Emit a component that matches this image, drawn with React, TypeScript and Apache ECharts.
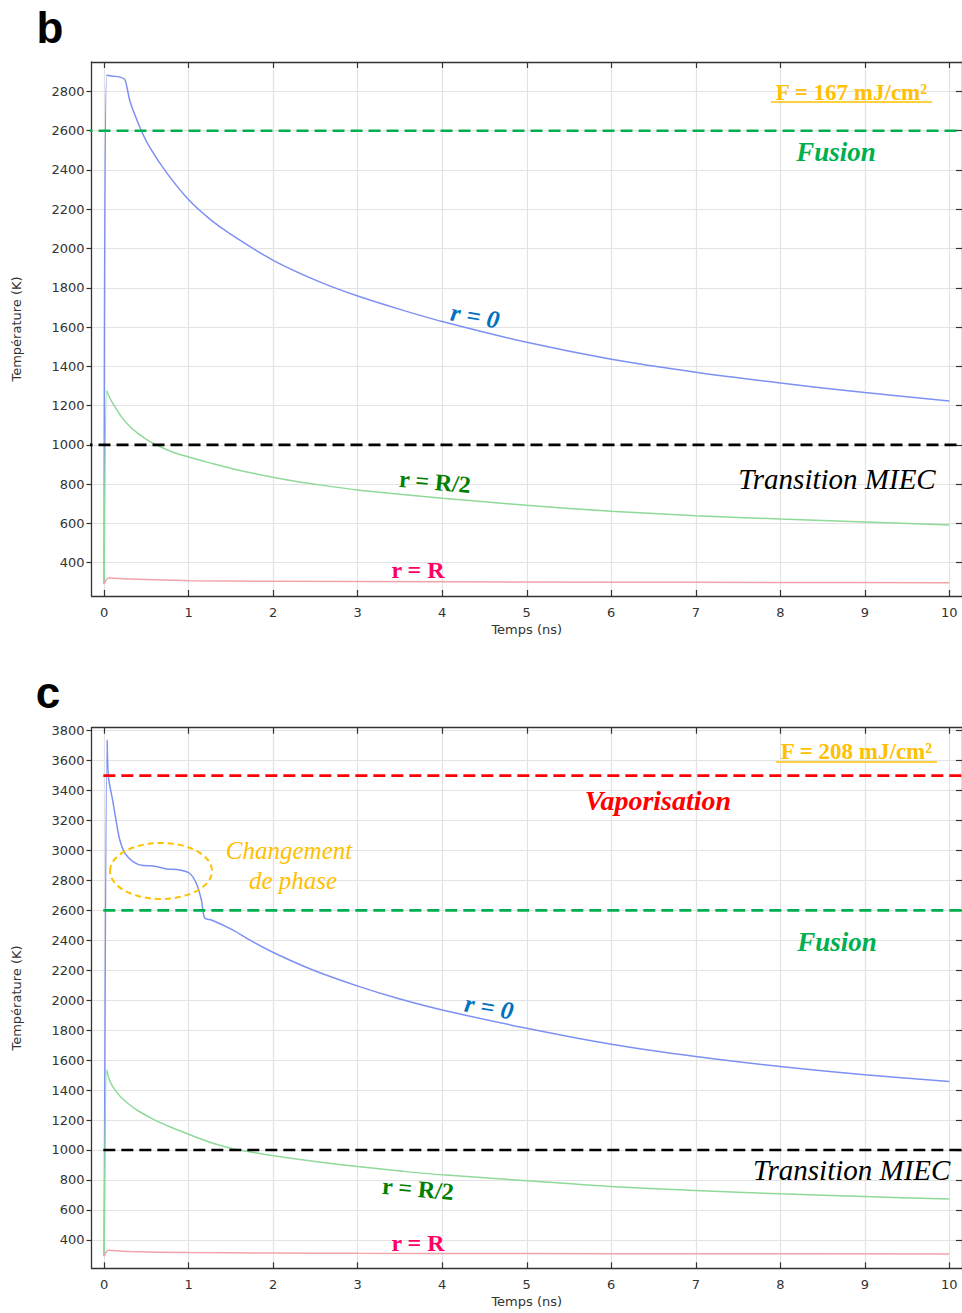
import React, { useEffect, useRef } from "react";
import * as echarts from "echarts";

// ---- tick values ----
const xTicks = [0, 1, 2, 3, 4, 5, 6, 7, 8, 9, 10];
const yTicksB = [400, 600, 800, 1000, 1200, 1400, 1600, 1800, 2000, 2200, 2400, 2600, 2800];
const yTicksC = [400, 600, 800, 1000, 1200, 1400, 1600, 1800, 2000, 2200, 2400, 2600, 2800, 3000, 3200, 3400, 3600, 3800];

// ---- panel b (F = 167 mJ/cm²) ----
const timeB0 = [0, 0.03, 0.1, 0.185, 0.245, 0.27, 0.3, 0.34, 0.44, 0.54, 0.74, 1, 1.25, 1.5, 2, 2.55, 3, 3.5, 4, 5, 6, 7, 8, 9, 10];
const tempB0 = [293, 2882, 2878, 2873, 2860, 2820, 2758, 2707, 2600, 2515, 2385, 2248, 2150, 2072, 1940, 1830, 1758, 1690, 1628, 1522, 1436, 1370, 1315, 1266, 1223];
const timeB1 = [0, 0.03, 0.06, 0.1, 0.15, 0.2, 0.3, 0.4, 0.5, 0.6, 0.8, 1, 1.25, 1.58, 2.17, 2.55, 3, 3.5, 4, 5, 6, 7, 8, 9, 10];
const tempB1 = [293, 1276, 1245, 1212, 1178, 1145, 1095, 1058, 1028, 1003, 965, 938, 908, 872, 821, 796, 770, 748, 728, 692, 662, 639, 622, 607, 592];
const timeB2 = [0, 0.05, 0.3, 1, 2, 4, 6, 8, 10];
const tempB2 = [291, 322, 316, 308, 305, 302, 300, 299, 298];
const levelsB = [2600, 1000];
const levelColorsB = ["#00B050", "#000000"];
const refSpanB = [-0.28, 10.3];

// ---- panel c (F = 208 mJ/cm²) ----
const timeC0 = [0, 0.035, 0.05, 0.1, 0.146, 0.185, 0.245, 0.34, 0.46, 0.58, 0.74, 0.89, 1.01, 1.09, 1.15, 1.19, 1.27, 1.52, 1.72, 2.02, 2.5, 3.02, 3.5, 4, 5, 6, 7, 8, 9, 10];
const tempC0 = [293, 3738, 3493, 3337, 3182, 3070, 2982, 2926, 2899, 2897, 2877, 2870, 2848, 2781, 2670, 2548, 2536, 2470, 2403, 2314, 2195, 2091, 2008, 1935, 1813, 1706, 1624, 1557, 1502, 1457];
const timeC1 = [0, 0.03, 0.06, 0.1, 0.15, 0.2, 0.3, 0.4, 0.6, 0.8, 1, 1.25, 1.5, 1.75, 2, 2.5, 3, 3.5, 4, 5, 6, 7, 8, 9, 10];
const tempC1 = [293, 1535, 1470, 1425, 1385, 1352, 1302, 1262, 1200, 1150, 1105, 1052, 1012, 985, 962, 923, 889, 860, 834, 795, 756, 729, 707, 689, 672];
const timeC2 = [0, 0.05, 0.3, 1, 2, 3, 5, 7, 10];
const tempC2 = [290, 330, 322, 315, 312, 310, 308, 307, 306];
const levelsC = [3500, 2600, 1000];
const levelColorsC = ["#FF0000", "#00B050", "#000000"];
const refSpanC = [-0.01, 10.3];

const zip = (xs: number[], ys: number[]) => xs.map((x, i) => [x, ys[i]]);

const AXIS_COLOR = "#333333";
const GRID_COLOR = "#e3e3e3";
const TICK_FONT = "DejaVu Sans";
const SERIF = "Liberation Serif";
const plain = (v: number) => String(v);

function makeAxes(gridIndex: number, yMin: number, yMax: number, yTicks: number[]) {
  const xBottom = {
    type: "value",
    gridIndex,
    position: "bottom",
    min: -0.15,
    max: 10.15,
    name: "Temps (ns)",
    nameLocation: "middle",
    nameGap: 27,
    nameTextStyle: { fontFamily: TICK_FONT, fontSize: 13, color: AXIS_COLOR },
    axisLine: { show: true, onZero: false, lineStyle: { color: AXIS_COLOR, width: 1.3 } },
    axisTick: { show: true, inside: true, length: 6, customValues: xTicks, lineStyle: { color: AXIS_COLOR, width: 1.2 } },
    axisLabel: { customValues: xTicks, formatter: plain, fontFamily: TICK_FONT, fontSize: 13, color: AXIS_COLOR, margin: 10 },
    splitLine: { show: true, lineStyle: { color: GRID_COLOR, width: 1.2 } },
  };
  const xTop = {
    type: "value",
    gridIndex,
    position: "top",
    min: -0.15,
    max: 10.15,
    axisLine: { show: true, onZero: false, lineStyle: { color: AXIS_COLOR, width: 1.3 } },
    axisTick: { show: true, inside: true, length: 6, customValues: xTicks, lineStyle: { color: AXIS_COLOR, width: 1.2 } },
    axisLabel: { show: false },
    splitLine: { show: false },
  };
  const yLeft = {
    type: "value",
    gridIndex,
    position: "left",
    min: yMin,
    max: yMax,
    name: "Température (K)",
    nameLocation: "middle",
    nameGap: 69,
    nameTextStyle: { fontFamily: TICK_FONT, fontSize: 13, color: AXIS_COLOR },
    axisLine: { show: true, onZero: false, lineStyle: { color: AXIS_COLOR, width: 1.3 } },
    axisTick: { show: true, inside: false, length: 5, customValues: yTicks, lineStyle: { color: AXIS_COLOR, width: 1.2 } },
    axisLabel: { customValues: yTicks, formatter: plain, fontFamily: TICK_FONT, fontSize: 13, color: AXIS_COLOR, margin: 7 },
    splitLine: { show: true, lineStyle: { color: GRID_COLOR, width: 1.2 } },
  };
  const yRight = {
    type: "value",
    gridIndex,
    position: "right",
    min: yMin,
    max: yMax,
    axisLine: { show: true, onZero: false, lineStyle: { color: AXIS_COLOR, width: 1.3 } },
    axisTick: { show: true, inside: true, length: 6, customValues: yTicks, lineStyle: { color: AXIS_COLOR, width: 1.2 } },
    axisLabel: { show: false },
    splitLine: { show: false },
  };
  return { x: [xBottom, xTop], y: [yLeft, yRight] };
}

function curve(xIdx: number, yIdx: number, data: number[][], color: string) {
  return {
    type: "line",
    xAxisIndex: xIdx,
    yAxisIndex: yIdx,
    data,
    showSymbol: false,
    symbol: "none",
    smooth: 0.3,
    lineStyle: { color, width: 1.5 },
    z: 3,
  };
}

function refLine(xIdx: number, yIdx: number, span: number[], level: number, color: string) {
  return {
    type: "line",
    xAxisIndex: xIdx,
    yAxisIndex: yIdx,
    data: [[span[0], level], [span[1], level]],
    showSymbol: false,
    symbol: "none",
    clip: false,
    lineStyle: { color, width: 2.6, type: [12, 6] },
    z: 4,
  };
}

function txt(x: number, y: number, text: string, font: string, fill: string, rotation = 0, align = "center") {
  return {
    type: "text",
    x,
    y,
    rotation,
    z: 10,
    style: { text, font, fill, align, verticalAlign: "middle" },
  };
}

export default function App() {
  const ref = useRef<HTMLDivElement>(null);

  useEffect(() => {
    if (!ref.current) return;
    const chart = echarts.init(ref.current, null, { renderer: "svg" });
    const axB = makeAxes(0, 230, 2950, yTicksB);
    const axC = makeAxes(1, 210, 3820, yTicksC);

    const blue = "#7d90f4";
    const green = "#8fd99a";
    const red = "#f2a3aa";

    const series: any[] = [
      curve(0, 0, zip(timeB0, tempB0), blue),
      curve(0, 0, zip(timeB1, tempB1), green),
      curve(0, 0, zip(timeB2, tempB2), red),
      ...levelsB.map((l, i) => refLine(0, 0, refSpanB, l, levelColorsB[i])),
      curve(2, 2, zip(timeC0, tempC0), blue),
      curve(2, 2, zip(timeC1, tempC1), green),
      curve(2, 2, zip(timeC2, tempC2), red),
      ...levelsC.map((l, i) => refLine(2, 2, refSpanC, l, levelColorsC[i])),
    ];

    const orange = "#FFC000";
    const fGreen = "#00B050";
    const graphic: any[] = [
      // panel letters
      txt(50, 27, "b", "bold 44px 'Liberation Sans'", "#000"),
      txt(48, 692, "c", "bold 44px 'Liberation Sans'", "#000"),
      // panel b annotations
      txt(851.5, 92, "F = 167 mJ/cm²", `bold 23px '${SERIF}'`, orange),
      { type: "line", z: 10, shape: { x1: 771, y1: 102, x2: 932, y2: 102 }, style: { stroke: orange, lineWidth: 1.6 } },
      txt(836, 152, "Fusion", `italic bold 27px '${SERIF}'`, fGreen),
      txt(475, 316, "r = 0", `italic bold 25px '${SERIF}'`, "#0070C0", -0.17),
      txt(435, 482, "r = R/2", `bold 24px '${SERIF}'`, "#008000", -0.09),
      txt(418, 570, "r = R", `bold 24px '${SERIF}'`, "#FF0066"),
      txt(837, 479, "Transition MIEC", `italic 29px '${SERIF}'`, "#000"),
      // panel c annotations
      txt(856.5, 751, "F = 208 mJ/cm²", `bold 23px '${SERIF}'`, orange),
      { type: "line", z: 10, shape: { x1: 776, y1: 762, x2: 937, y2: 762 }, style: { stroke: orange, lineWidth: 1.6 } },
      txt(658, 800, "Vaporisation", `italic bold 28px '${SERIF}'`, "#FF0000"),
      txt(837, 942, "Fusion", `italic bold 27px '${SERIF}'`, fGreen),
      txt(289, 850, "Changement", `italic 25px '${SERIF}'`, orange),
      txt(293, 880, "de phase", `italic 25px '${SERIF}'`, orange),
      {
        type: "ellipse",
        z: 10,
        shape: { cx: 161, cy: 871, rx: 51, ry: 28 },
        style: { fill: "none", stroke: orange, lineWidth: 2, lineDash: [6, 4] },
      },
      txt(489, 1007, "r = 0", `italic bold 25px '${SERIF}'`, "#0070C0", -0.17),
      txt(418, 1189, "r = R/2", `bold 24px '${SERIF}'`, "#008000", -0.09),
      txt(418, 1243, "r = R", `bold 24px '${SERIF}'`, "#FF0066"),
      txt(753, 1170, "Transition MIEC", `italic 29px '${SERIF}'`, "#000", 0, "left"),
    ];

    chart.setOption({
      animation: false,
      backgroundColor: "#ffffff",
      grid: [
        { left: 91.5, top: 62, width: 873, height: 534, containLabel: false },
        { left: 91.5, top: 727.7, width: 873, height: 540.6, containLabel: false },
      ],
      xAxis: [...axB.x, ...axC.x],
      yAxis: [...axB.y, ...axC.y],
      series,
      graphic,
    });
    return () => chart.dispose();
  }, []);

  return (
    <div
      ref={ref}
      style={{ position: "absolute", left: 0, top: 0, width: 962, height: 1313, background: "#fff" }}
    />
  );
}
